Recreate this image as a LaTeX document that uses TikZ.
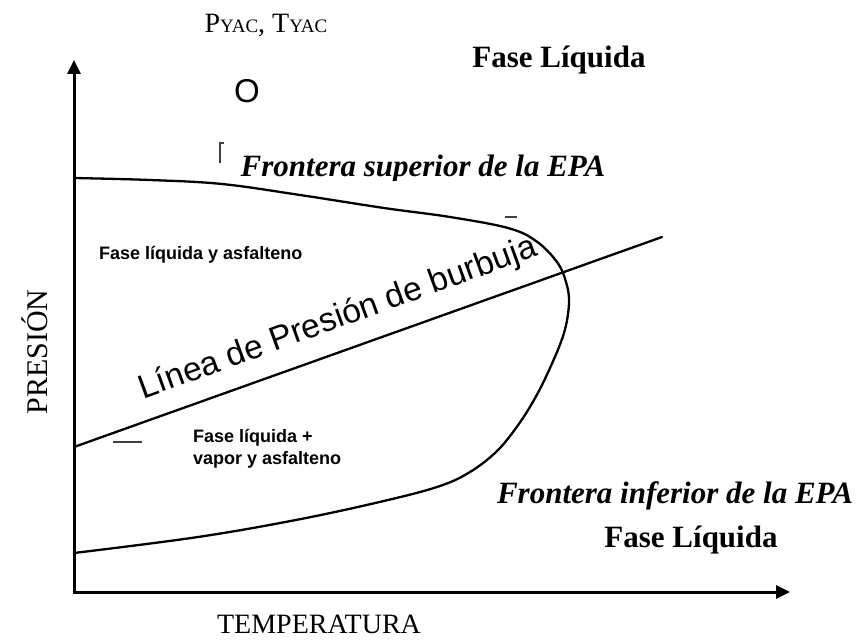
\documentclass[tikz,border=0pt]{standalone}
\usepackage{fontspec}
\setmainfont{Liberation Serif}
\newfontfamily\arialf{Liberation Sans}
\usetikzlibrary{arrows.meta}
\begin{document}
\begin{tikzpicture}[x=1pt,y=-1pt,
  axis/.style={line width=3pt, -{Triangle[length=14pt,width=13pt]}},
  curve/.style={line width=2.3pt, line join=round, line cap=round},
  stray/.style={line width=1.3pt, black!75},
  lbl/.style={inner sep=0pt, anchor=center},
  bigbi/.style={lbl, font=\fontsize{31}{31}\selectfont\bfseries\itshape},
  bigb/.style={lbl, font=\fontsize{31}{31}\selectfont\bfseries},
  small/.style={inner sep=0pt, anchor=west, font=\arialf\fontsize{18}{22}\selectfont\bfseries, align=left},
  axlbl/.style={lbl, font=\fontsize{28}{28}\selectfont},
]
\useasboundingbox (0,0) rectangle (856,644);
% axes
\coordinate (O) at (74,592);
\coordinate (ytop) at (74,60);
\coordinate (xend) at (790,592);
\draw[axis] (74,593.5) -- (ytop);
\draw[axis] (72.5,592) -- (xend);
% labels
\node[axlbl] (temp) at (319,624) {TEMPERATURA};
\node[axlbl, font=\fontsize{30}{30}\selectfont, rotate=90] (pres) at (35,352) {PRESIÓN};
\node[lbl, font=\fontsize{28}{28}\selectfont] (pyac) at (266,25)
  {P{\fontsize{19}{19}\selectfont YAC}, T{\fontsize{19}{19}\selectfont YAC}};
\node[lbl, font=\arialf\fontsize{33}{33}\selectfont] (ocirc) at (247,91) {O};
\node[bigb] (flq1) at (559,60) {Fase Líquida};
\node[bigb] (flq2) at (691,540) {Fase Líquida};
\node[bigbi] (fsup) at (423,169) {Frontera superior de la EPA};
\fill[white] (235,181.5) rectangle (615,200);
\node[bigbi] (finf) at (675,496) {Frontera inferior de la EPA};
\node[small] (fla) at (99,255) {Fase líquida y asfalteno};
\node[small] (flv) at (193,449) {Fase líquida +\\vapor y asfalteno};
\node[lbl, font=\arialf\fontsize{33.5}{33.5}\selectfont, rotate=20] (linea) at (338,319)
  {Línea de Presión de burbuja};
% stray marks
\draw[stray] (220,163) -- (220,143) -- (224,143);
\draw[stray] (113,442) -- (142,442);
\draw[stray] (505,217) -- (517,217);
% bubble pressure line
\coordinate (b1) at (74,447);
\coordinate (b2) at (662,237);
\draw[curve] (b1) -- (b2);
% EPA envelope
\coordinate (e1) at (74,178);
\coordinate (e2) at (74,553);
\draw[curve] plot[smooth, tension=0.6] coordinates {
 (e1) (150,180) (222,184) (300,195) (384,208) (450,217) (508,228)
 (536,241) (557,262) (566,282) (569,303) (564,333) (550,368) (534,400)
 (516,428) (496,452) (470,472) (440,486) (388,500) (301,519) (198,537) (e2)};
\end{tikzpicture}
\end{document}
